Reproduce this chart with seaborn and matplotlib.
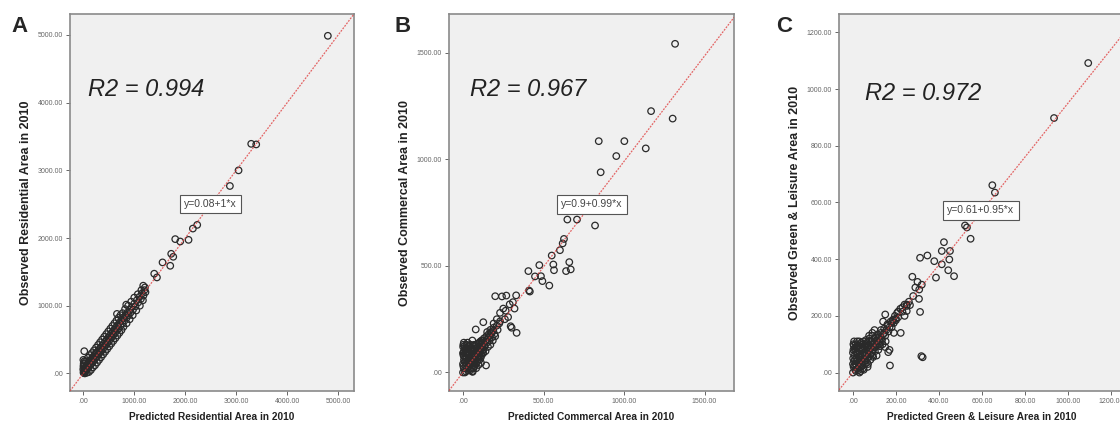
import pandas as pd
import matplotlib
matplotlib.use("Agg")
import matplotlib.pyplot as plt
from matplotlib.ticker import FuncFormatter
import seaborn as sns

# --- values (predicted, observed) ---

# A: residential
res_pred = [5, 10, 15, 20, 25, 30, 35, 40, 45, 50, 55, 60, 70, 75, 80, 90, 100, 110, 120, 130,
            140, 150, 160, 170, 180, 190, 200, 210, 220, 230, 240, 250, 260, 275, 290, 300, 315,
            330, 340, 355, 370, 385, 400, 415, 430, 445, 460, 475, 490, 505, 520, 535, 550, 565,
            580, 595, 610, 625, 640, 655, 670, 690, 710, 730, 750, 770, 790, 810, 830, 850, 870,
            890, 910, 930, 950, 975, 1000, 1025, 1050, 1080, 1100, 1130, 1150, 1180, 1200, 1220,
            0, 5, 10, 2, 8, 20,
            4797, 3294, 3392, 3046, 2876, 2235, 2150, 1804, 2065, 1902, 1725, 1765, 1706, 1555,
            1392, 1445, 1176, 843, 661, 20]
res_obs = [12, 30, 5, 45, 18, 60, 25, 80, 40, 95, 50, 70, 110, 60, 130, 85, 140, 100, 170, 115,
           190, 140, 210, 150, 230, 175, 250, 190, 270, 215, 290, 240, 310, 250, 330, 280, 360,
           310, 380, 330, 410, 360, 440, 390, 470, 420, 500, 450, 530, 480, 560, 510, 590, 540,
           620, 570, 650, 600, 680, 630, 710, 660, 750, 700, 790, 740, 830, 780, 860, 820, 900,
           860, 940, 900, 980, 940, 1030, 990, 1080, 1050, 1130, 1100, 1180, 1150, 1230, 1200,
           60, 100, 150, 200, 120, 180,
           4988, 3392, 3383, 3000, 2769, 2194, 2140, 1984, 1973, 1949, 1767, 1723, 1590, 1640,
           1473, 1418, 1296, 1016, 879, 328]
# extra points of the dense band
res_pred_band = [10, 30, 50, 70, 90, 110, 130, 150, 170, 190, 210, 230, 250, 270, 290, 310, 330,
                 350, 370, 390, 410, 430, 450, 470, 490, 510, 530, 550, 570, 590, 610, 630, 650,
                 670, 690, 710, 730, 750, 770, 790, 820, 850, 880, 910, 940, 970, 1000, 1040,
                 1070, 1110, 1140, 1170, 1210]
res_obs_band = [140, 0, 180, 10, 230, 20, 270, 50, 300, 90, 340, 120, 380, 160, 420, 200, 460,
                240, 500, 280, 540, 320, 580, 360, 620, 400, 660, 440, 700, 480, 740, 520, 780,
                560, 820, 600, 860, 640, 890, 690, 950, 740, 1000, 800, 1060, 860, 1120, 930,
                1170, 1000, 1230, 1080, 1270]

# B: commercial
com_pred = [0, 5, 10, 3, 8, 12, 15, 20, 25, 30, 35, 40, 45, 50, 55, 60, 65, 70, 75, 80, 85, 90,
            95, 100, 105, 110, 115, 120, 125, 130, 135, 140, 145, 150, 155, 160, 165, 170, 175,
            180, 185, 190, 195, 200, 210, 215, 225, 18, 22, 28, 2, 6, 33, 48, 58, 42, 62, 72, 88,
            98, 108, 118, 128, 138, 148, 158, 168, 178, 188, 1, 4, 7, 26, 38, 52, 68, 78, 92, 102,
            1317, 1168, 1302, 843, 1002, 1135, 952, 855, 820, 708, 648, 627, 619, 551, 602, 561,
            565, 660, 669, 640, 474, 406, 484, 493, 536, 447, 410, 415, 269, 330, 310, 290, 320,
            200, 242, 302, 333, 79, 126, 143, 296, 265, 280, 250, 230, 210, 190, 170, 150, 230, 260]
com_obs = [0, 20, 50, 80, 100, 110, 30, 70, 90, 10, 60, 120, 40, 80, 20, 100, 55, 130, 75, 40,
           110, 90, 60, 140, 100, 70, 150, 115, 90, 160, 125, 100, 170, 140, 120, 180, 150, 130,
           190, 165, 150, 210, 180, 170, 220, 200, 230, 5, 130, 140, 30, 60, 95, 130, 150, 15, 35,
           50, 70, 80, 120, 95, 110, 145, 155, 165, 175, 185, 195, 120, 95, 75, 115, 45, 65, 85,
           95, 105, 120,
           1543, 1227, 1192, 1086, 1086, 1052, 1016, 940, 690, 718, 718, 627, 606, 549, 574, 507,
           480, 518, 484, 476, 504, 476, 452, 429, 408, 451, 385, 380, 361, 362, 330, 320, 300,
           358, 357, 210, 186, 202, 236, 33, 217, 290, 260, 300, 280, 250, 230, 200, 190, 240, 250]
com_pred_band = [0, 0, 2, 5, 10, 14, 16, 19, 24, 27, 31, 34, 37, 41, 44, 47, 51, 54, 57, 61, 64,
                 67, 71, 74, 77, 81, 84, 87, 91, 94, 97, 101, 104, 107, 111, 114, 117, 121, 124,
                 127, 12, 32, 46, 56, 66, 82, 96, 112, 60, 20]
com_obs_band = [40, 90, 130, 140, 125, 90, 60, 40, 20, 100, 80, 125, 30, 95, 70, 105, 50, 115,
                85, 60, 125, 100, 30, 110, 60, 130, 95, 50, 120, 75, 135, 90, 60, 145, 110, 80,
                130, 140, 105, 150, 0, 45, 10, 5, 20, 20, 35, 45, 3, 110]

# C: green & leisure
grn_pred = [0, 3, 5, 8, 2, 4, 10, 12, 15, 18, 20, 22, 25, 28, 30, 33, 36, 40, 43, 46, 50, 53, 56,
            60, 63, 66, 70, 73, 76, 80, 83, 86, 90, 93, 96, 100, 105, 110, 115, 120, 125, 130, 135,
            140, 145, 150, 155, 160, 165, 170, 175, 180, 185, 190, 195, 200, 205, 210, 220, 230,
            240, 250, 1, 6, 14, 24, 35, 45, 55, 65,
            1094, 935, 648, 660, 530, 521, 547, 423, 451, 413, 378, 413, 448, 443, 470, 386, 312,
            346, 276, 300, 290, 320, 308, 312, 324, 172, 318, 307, 250, 230, 240, 200, 180, 260,
            280, 210, 150, 160, 140, 130, 120, 100, 90, 110, 150, 170, 60, 75, 190,
            126, 164, 222, 187, 265, 250]
grn_obs = [0, 20, 40, 60, 80, 95, 10, 30, 50, 70, 90, 15, 35, 55, 75, 100, 20, 45, 65, 85, 110,
           40, 60, 80, 105, 50, 75, 95, 120, 65, 85, 110, 130, 80, 100, 120, 90, 110, 135, 100,
           125, 140, 115, 135, 155, 130, 150, 165, 145, 160, 180, 160, 185, 175, 200, 185, 210,
           195, 225, 215, 240, 235, 50, 25, 5, 8, 5, 25, 30, 35,
           1092, 898, 661, 635, 512, 519, 472, 460, 429, 429, 393, 382, 399, 361, 340, 335, 405,
           413, 338, 320, 300, 310, 293, 214, 54, 25, 58, 260, 240, 230, 200, 190, 175, 250,
           270, 215, 205, 170, 180, 150, 125, 150, 140, 60, 90, 80, 100, 130, 140,
           93, 72, 140, 187, 238, 217]
grn_pred_band = [0, 0, 2, 5, 7, 9, 11, 13, 16, 17, 19, 21, 23, 26, 27, 29, 31, 32, 34, 38, 39, 41,
                 44, 47, 48, 51, 54, 58, 61, 64, 67, 68, 71, 74, 78, 81, 84, 88, 91, 94, 98, 102,
                 106, 112, 118, 124, 132, 138, 146, 152, 30, 50, 70, 90]
grn_obs_band = [30, 70, 100, 110, 85, 45, 75, 100, 25, 85, 110, 45, 65, 95, 20, 110, 40, 60, 85,
                105, 30, 55, 80, 100, 15, 70, 90, 45, 115, 65, 90, 20, 55, 110, 80, 45, 100, 70,
                115, 55, 90, 75, 125, 95, 80, 110, 120, 100, 140, 110, 0, 10, 30, 60]

letters = ["A", "B", "C"]
r2_values = [0.994, 0.967, 0.972]
intercepts = [0.08, 0.9, 0.61]
slopes = [1, 0.99, 0.95]
x_titles = ["Predicted Residential Area in 2010", "Predicted Commercal Area in 2010",
            "Predicted Green & Leisure Area in 2010"]
y_titles = ["Observed Residential Area in 2010", "Observed Commercal Area in 2010",
            "Observed Green & Leisure Area in 2010"]
tick_values = [[0, 1000, 2000, 3000, 4000, 5000],
               [0, 500, 1000, 1500],
               [0, 200, 400, 600, 800, 1000, 1200]]

data = [(res_pred + res_pred_band, res_obs + res_obs_band),
        (com_pred + com_pred_band, com_obs + com_obs_band),
        (grn_pred + grn_pred_band, grn_obs + grn_obs_band)]

# layout (pixels of a 1120x430 figure)
axes_left = [70, 449, 839]
axes_width = [284, 285, 286]
limits = [(-260, 5310), (-87, 1683), (-65, 1265)]
eq_pos = [(2490, 2504), (801, 789), (595, 572)]
r2_pos = [(0.063, 0.80), (0.074, 0.80), (0.09, 0.79)]
letter_x = [19, 403, 784]

sns.set_style("white")
plt.rcParams["font.family"] = ["Liberation Sans", "DejaVu Sans"]

W, H = 1120, 430
fig = plt.figure(figsize=(W / 100, H / 100), dpi=100)


def fmt(v, pos):
    s = f"{v:.2f}"
    return s[1:] if s.startswith("0") else s


for i in range(3):
    ax = fig.add_axes([axes_left[i] / W, 39 / H, axes_width[i] / W, 377 / H])
    ax.set_facecolor("#f0f0f0")
    df = pd.DataFrame({"pred": data[i][0], "obs": data[i][1]})
    sns.scatterplot(data=df, x="pred", y="obs", ax=ax, s=22, facecolor="none",
                    edgecolor="#2a2a2a", linewidth=0.9, zorder=3)
    ax.axline((0, intercepts[i]), slope=slopes[i], color="#e04040", lw=0.9,
              ls=(0, (1.5, 1)), alpha=0.8, zorder=4)
    lo, hi = limits[i]
    ax.set_xlim(lo, hi)
    ax.set_ylim(lo, hi)
    ax.set_xticks(tick_values[i])
    ax.set_yticks(tick_values[i])
    ax.xaxis.set_major_formatter(FuncFormatter(fmt))
    ax.yaxis.set_major_formatter(FuncFormatter(fmt))
    ax.tick_params(axis="both", labelsize=5, labelcolor="#666666", color="#666666",
                   length=3, width=0.7, direction="out", bottom=True, left=True, pad=2)
    for sp in ax.spines.values():
        sp.set_color("#8a8a8a")
        sp.set_linewidth(1.2)
    ax.set_xlabel(x_titles[i], fontsize=7.3, fontweight="bold", color="#222222", labelpad=5)
    ax.set_ylabel(y_titles[i], fontsize=9, fontweight="bold", color="#222222", labelpad=4)
    ax.text(r2_pos[i][0], r2_pos[i][1], f"R2 = {r2_values[i]:.3f}", transform=ax.transAxes,
            fontsize=17, style="italic", color="#222222", va="center", ha="left")
    ax.text(eq_pos[i][0], eq_pos[i][1], f"y={intercepts[i]:g}+{slopes[i]:g}*x",
            fontsize=7.5, color="#444444", ha="center", va="center", zorder=5,
            bbox=dict(boxstyle="square,pad=0.4", fc="white", ec="#555555", lw=0.8))
    fig.text(letter_x[i] / W, 1 - 27 / H, letters[i], fontsize=16, fontweight="bold",
             ha="center", va="center")

fig.savefig("out.png", dpi=100)
